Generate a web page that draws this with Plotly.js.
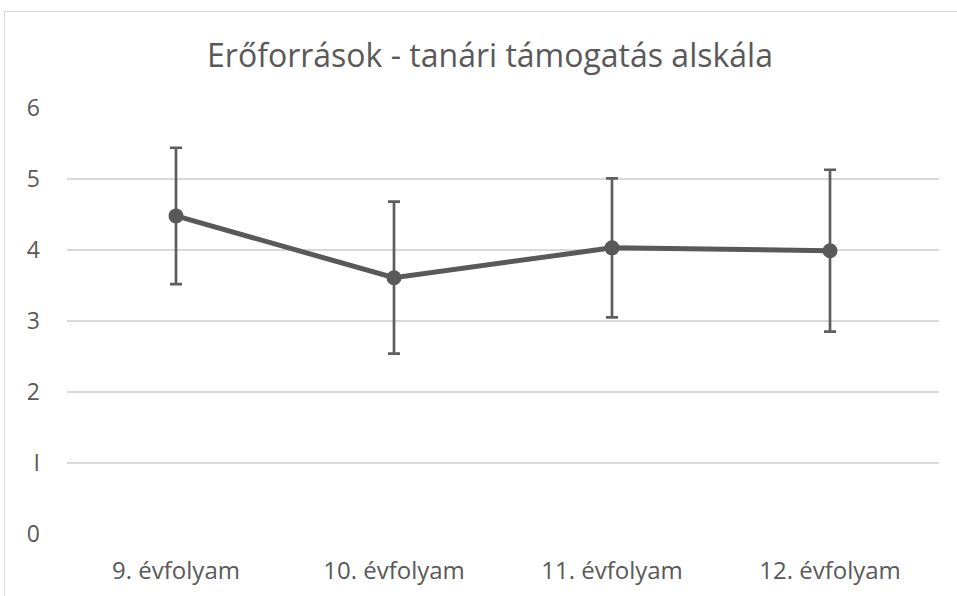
<!DOCTYPE html>
<html>
<head>
<meta charset="utf-8">
<script src="https://cdn.plot.ly/plotly-3.0.1.min.js"></script>
<style>
html,body{margin:0;padding:0;overflow:hidden;background:#fff;}
#frame{position:absolute;left:4px;top:11px;width:1200px;height:900px;border:1px solid #d9d9d9;box-sizing:border-box;}
#chart{position:absolute;left:0;top:0;width:957px;height:596px;}
</style>
</head>
<body>
<div id="frame"></div>
<div id="chart"></div>
<script>
const categories = ["9. évfolyam", "10. évfolyam", "11. évfolyam", "12. évfolyam"];
const means = [4.48, 3.61, 4.03, 3.99];
const errors = [0.96, 1.07, 0.98, 1.14];
const yTicks = [0, 1, 2, 3, 4, 5, 6];
const yTickLabels = ["0", "I", "2", "3", "4", "5", "6"];
const chartTitle = "Erőforrások - tanári támogatás alskála";

const txt = "#595959";
const trace = {
  x: categories, y: means, type: "scatter", mode: "lines+markers",
  line: {color: "#595959", width: 5},
  marker: {color: "#595959", size: 15},
  error_y: {type: "data", array: errors, visible: true, color: "#5e5e5e", thickness: 2.7, width: 6},
  hoverinfo: "none"
};
const layout = {
  width: 957, height: 596,
  margin: {l: 67, r: 18, t: 108, b: 62},
  paper_bgcolor: "rgba(0,0,0,0)", plot_bgcolor: "rgba(0,0,0,0)",
  showlegend: false,
  font: {family: "'Open Sans', Lato, sans-serif", color: txt},
  title: {text: chartTitle, font: {size: 32, color: txt}, x: 0.512, xanchor: "center", y: 0.907, yanchor: "middle"},
  xaxis: {type: "category", range: [-0.5, 3.5], showgrid: false, zeroline: false, showline: false,
          tickfont: {size: 24, color: txt}, ticks: "", ticklabelstandoff: 20},
  yaxis: {range: [0, 6], tickvals: yTicks, ticktext: yTickLabels, gridcolor: "#d9d9d9", gridwidth: 1.3,
          zeroline: false, showline: false, tickfont: {size: 23, color: txt}, ticks: "", ticklabelstandoff: 26}
};
Plotly.newPlot("chart", [trace], layout, {displayModeBar: false, staticPlot: true});
</script>
</body>
</html>
